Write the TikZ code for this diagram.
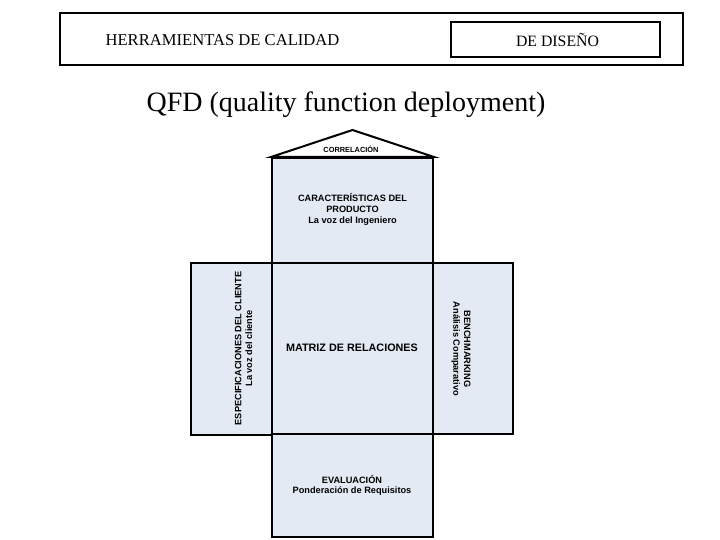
\documentclass[tikz,border=0pt]{standalone}
\usepackage{fontspec}
\setmainfont{Liberation Serif}
\setsansfont{Liberation Sans}
\definecolor{boxfill}{RGB}{228,234,244}
\begin{document}
\begin{tikzpicture}[x=1pt,y=-1pt,
  frame/.style={draw=black,line width=2pt,fill=white,inner sep=0pt},
  sidebox/.style={draw=black,line width=1.5pt,fill=boxfill,inner sep=0pt},
  mainbox/.style={draw=black,line width=2pt,fill=boxfill,inner sep=0pt},
  lbl/.style={font=\sffamily\bfseries\fontsize{9.2}{10.7}\selectfont,align=center,inner sep=0pt},
  hdr/.style={inner sep=0pt}]
\useasboundingbox (0,0) rectangle (720,540);
% header
\node[frame,minimum width=623,minimum height=52] (outer) at (371.5,39) {};
\node[frame,minimum width=209,minimum height=35] (inner) at (555.5,39.5) {};
\node[hdr,font=\fontsize{16.6}{19}\selectfont] (t1) at (222.5,40) {HERRAMIENTAS DE CALIDAD};
\node[hdr,font=\fontsize{15.8}{19}\selectfont] (t2) at (557.5,40) {DE DISEÑO};
\node[hdr,font=\fontsize{28}{32}\selectfont] (qfd) at (346,105) {QFD (quality function deployment)};
% side boxes
\node[sidebox,minimum width=81,minimum height=172] (left) at (231.5,349) {};
\node[sidebox,minimum width=80,minimum height=171] (right) at (473,348.5) {};
% central column
\node[mainbox,minimum width=161,minimum height=105] (top) at (352.5,210.5) {};
\node[mainbox,minimum width=161,minimum height=171] (mid) at (352.5,348.5) {};
\node[mainbox,minimum width=161,minimum height=103] (bot) at (352.5,485.5) {};
% roof
\coordinate (apex) at (352.5,130);
\draw[line width=2pt,line join=miter,fill=white] (top.north west) -- (apex) -- (top.north east) -- cycle;
% texts
\node[lbl,font=\sffamily\bfseries\fontsize{7.4}{8.5}\selectfont] (corr) at (351,149) {CORRELACIÓN};
\node[lbl] (car) at (352.5,209.5) {CARACTERÍSTICAS DEL\\PRODUCTO\\La voz del Ingeniero};
\node[lbl,font=\sffamily\bfseries\fontsize{10.8}{12}\selectfont] (mat) at (352,348) {MATRIZ DE RELACIONES};
\node[lbl,rotate=90] (esp) at (243.5,348.5) {ESPECIFICACIONES DEL CLIENTE\\La voz del cliente};
\node[lbl,rotate=-90] (ben) at (461,349) {BENCHMARKING\\Análisis Comparativo};
\node[lbl] (eva) at (352,485.5) {EVALUACIÓN\\Ponderación de Requisitos};
\end{tikzpicture}
\end{document}
